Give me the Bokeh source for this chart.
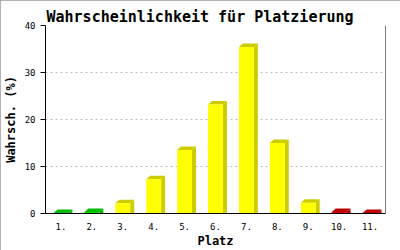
from bokeh.plotting import figure
from bokeh.models import Range1d, FixedTicker, Span, InlineStyleSheet
from bokeh.embed import file_html
from bokeh.resources import INLINE

# ---- data ----
places = ["1.", "2.", "3.", "4.", "5.", "6.", "7.", "8.", "9.", "10.", "11."]
probs = [0.1, 0.3, 2.2, 7.3, 13.5, 23.2, 35.4, 15.0, 2.3, 0.3, 0.1]
groups = ["green", "green", "yellow", "yellow", "yellow", "yellow", "yellow",
          "yellow", "yellow", "red", "red"]
y_ticks = [0, 10, 20, 30, 40]

front_colors = {"green": "#00dd00", "yellow": "#ffff00", "red": "#dd0000"}
side_colors = {"green": "#00bb00", "yellow": "#cccc00", "red": "#bb0000"}

MONO = "DejaVu Sans Mono"
W = 0.48   # front face width (category units)
DX = 0.13  # depth offset x
DY = 0.75  # depth offset y

p = figure(width=400, height=250, output_backend="svg", toolbar_location=None,
           x_range=Range1d(0, len(places)), y_range=Range1d(0, 40),
           title="Wahrscheinlichkeit für Platzierung",
           min_border_left=43, min_border_right=15, min_border_top=25,
           min_border_bottom=37)

p.title.text_font = MONO
p.title.text_font_size = "15px"
p.title.text_font_style = "bold"
p.title.text_color = "black"
p.title.align = "left"
p.title.offset = 1
p.title.standoff = 0

centers = [i + 0.5 for i in range(len(places))]
lefts = [c - W / 2 for c in centers]
rights = [c + W / 2 for c in centers]

side_xs, side_ys, top_xs, top_ys, side_c = [], [], [], [], []
for l, r, v, g in zip(lefts, rights, probs, groups):
    side_xs.append([r, r + DX, r + DX, r])
    side_ys.append([0, 0, v + DY, v])
    top_xs.append([l, l + DX, r + DX, r])
    top_ys.append([v, v + DY, v + DY, v])
    side_c.append(side_colors[g])

p.patches(side_xs, side_ys, fill_color=side_c, line_color=None)
p.patches(top_xs, top_ys, fill_color=side_c, line_color=None)
p.quad(left=lefts, right=rights, bottom=0, top=probs,
       fill_color=[front_colors[g] for g in groups], line_color=None)

# axes
p.xaxis.ticker = FixedTicker(ticks=centers)
p.xaxis.major_label_overrides = {c: lab for c, lab in zip(centers, places)}
p.xaxis.major_tick_line_color = None
p.xaxis.minor_tick_line_color = None
p.xaxis.axis_line_color = "black"
p.xaxis.major_label_text_font = MONO
p.xaxis.major_label_text_font_size = "9px"
p.xaxis.major_label_text_color = "black"
p.xaxis.major_label_standoff = 3
p.xaxis.axis_label = "Platz"
p.xaxis.axis_label_text_font = MONO
p.xaxis.axis_label_text_font_size = "12px"
p.xaxis.axis_label_text_font_style = "bold"
p.xaxis.axis_label_text_color = "black"
p.xaxis.axis_label_standoff = 1

p.yaxis.ticker = FixedTicker(ticks=y_ticks)
p.yaxis.major_tick_out = 5
p.yaxis.major_tick_in = 0
p.yaxis.minor_tick_line_color = None
p.yaxis.axis_line_color = "black"
p.yaxis.major_label_text_font = MONO
p.yaxis.major_label_text_font_size = "9px"
p.yaxis.major_label_text_color = "black"
p.yaxis.major_label_standoff = 5
p.yaxis.axis_label = "Wahrsch. (%)"
p.yaxis.axis_label_text_font = MONO
p.yaxis.axis_label_text_font_size = "12px"
p.yaxis.axis_label_text_font_style = "bold"
p.yaxis.axis_label_text_color = "black"
p.yaxis.axis_label_standoff = 4

p.xgrid.grid_line_color = None
p.ygrid.grid_line_color = "#bbbbbb"
p.ygrid.grid_line_dash = "2 3"
p.ygrid.ticker = FixedTicker(ticks=y_ticks[1:])

p.outline_line_color = None
p.add_layout(Span(location=len(places), dimension="height", line_color="black", line_width=1))

p.background_fill_color = "white"
p.border_fill_color = "white"
p.stylesheets = [InlineStyleSheet(css=":host { outline: 1px solid #999; outline-offset: -1px; }")]

open("out.html", "w").write(file_html(p, INLINE))
